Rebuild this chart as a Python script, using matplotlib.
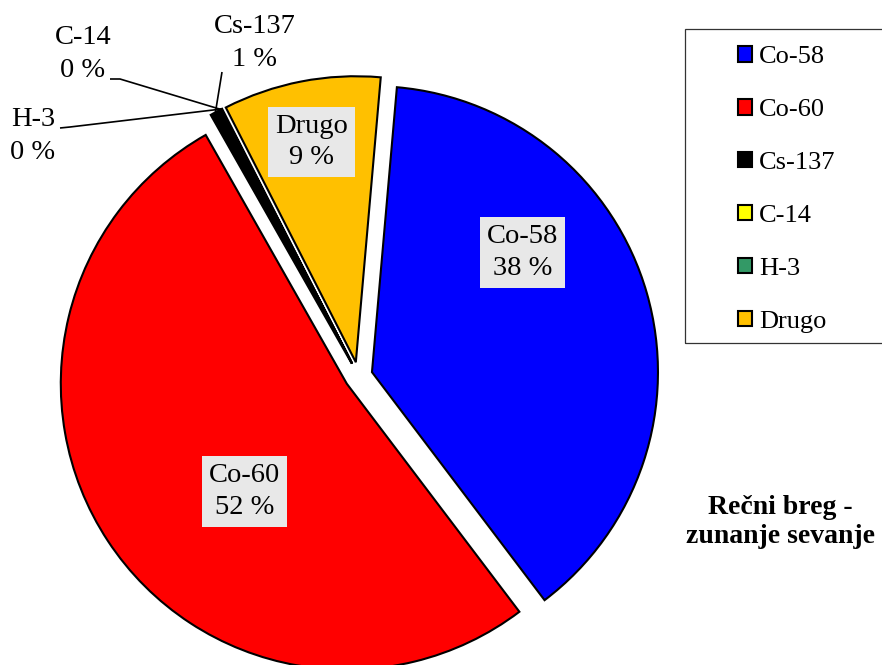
import numpy as np
import matplotlib
matplotlib.use("Agg")
import matplotlib.pyplot as plt
from matplotlib.patches import Rectangle

# Radionuclide shares (%) for the river-bank external exposure pathway
names = ["Co-58", "Co-60", "Cs-137", "C-14", "H-3", "Drugo"]
values = [38.3, 52.1, 0.6, 0.05, 0.05, 8.9]
colors = ["#0000FF", "#FF0000", "#000000", "#FFFF00", "#339966", "#FFC000"]
title = "Rečni breg -\nzunanje sevanje"

W, H = 882, 665
R_PX = 286.0          # pie radius in pixels
CX, CY = 358.5, 376.0  # pie centre in pixels

plt.rcParams["font.family"] = ["Liberation Serif", "DejaVu Serif"]

fig = plt.figure(figsize=(W / 100, H / 100), dpi=100)
ax = fig.add_axes([0, 0, 1, 1])


def px(x, y):
    """Pixel position (from top-left) -> data coordinates of the pie axes."""
    return (x - CX) / R_PX, (CY - y) / R_PX


wedges, _ = ax.pie(
    values,
    colors=colors,
    startangle=85,
    counterclock=False,
    explode=[0.049] * len(values),
    radius=1.0,
    wedgeprops=dict(edgecolor="black", linewidth=1.5),
)
ax.set_xlim(-CX / R_PX, (W - CX) / R_PX)
ax.set_ylim(-(H - CY) / R_PX, CY / R_PX)
ax.set_aspect("auto")
ax.axis("off")


def outer_point(w):
    mid = np.deg2rad(0.5 * (w.theta1 + w.theta2))
    cx, cy = w.center
    return cx + w.r * np.cos(mid), cy + w.r * np.sin(mid)


lab_fs = 20.5
box = dict(boxstyle="square,pad=0.25", fc="#E8E8E8", ec="none")

# labels inside the large slices
inside = {"Co-58": (522.5, 252.5), "Co-60": (244.5, 491.5), "Drugo": (311.5, 142.0)}
for i, n in enumerate(names):
    if n in inside:
        x, y = px(*inside[n])
        ax.text(x, y, f"{n}\n{values[i]:.0f} %", ha="center", va="center",
                fontsize=lab_fs, linespacing=1.32, bbox=box)

# labels for the small slices, with leader lines
outside = {
    "Cs-137": ((255, 43), [(222, 72)]),
    "C-14": ((83, 54), [(110, 79), (120, 79)]),
    "H-3": ((33, 136), [(60, 128), (70, 127)]),
}
for i, n in enumerate(names):
    if n in outside:
        (tx, ty), anchors = outside[n]
        x, y = px(tx, ty)
        ax.text(x, y, f"{n}\n{values[i]:.0f} %", ha="center", va="center",
                fontsize=lab_fs, linespacing=1.42)
        pts = [px(*a) for a in anchors] + [outer_point(wedges[i])]
        ax.plot([p[0] for p in pts], [p[1] for p in pts], color="black",
                lw=1.2, solid_capstyle="butt", clip_on=False)

# legend
leg = ax.legend(
    wedges, names,
    loc="upper left",
    bbox_to_anchor=(725 / W, 1 - 33 / H),
    bbox_transform=fig.transFigure,
    frameon=False,
    borderpad=0,
    prop=dict(family="Liberation Serif", size=19),
    handlelength=0.52, handleheight=0.52, handletextpad=0.28,
    labelspacing=1.17,
)
fig.patches.append(Rectangle((685 / W, 1 - 343 / H), 200 / W, 314 / H,
                             transform=fig.transFigure, fill=False,
                             ec="#333333", lw=0.9))

tx, ty = px(780, 522)
ax.text(tx, ty, title, ha="center", va="center", fontsize=20,
        fontweight="bold", linespacing=1.2)

fig.savefig("out.png", dpi=100)
